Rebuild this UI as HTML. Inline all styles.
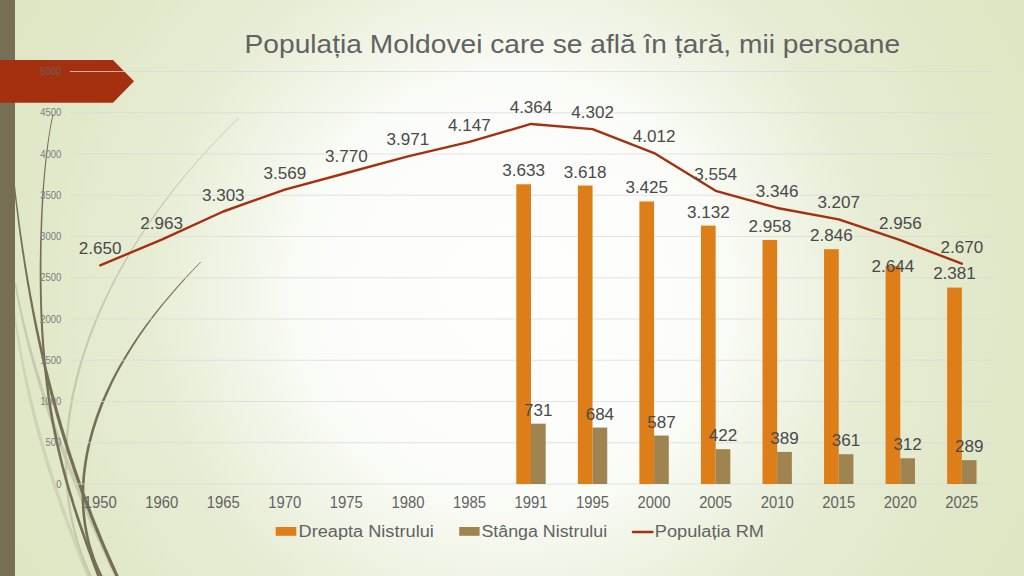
<!DOCTYPE html>
<html><head><meta charset="utf-8"><title>Populatia Moldovei</title>
<style>
html,body{margin:0;padding:0;width:1024px;height:576px;overflow:hidden;background:#e3eacf;}
svg{display:block;position:absolute;left:0;top:0;}
text{font-family:"Liberation Sans",sans-serif;}
</style></head><body>
<svg width="1024" height="576" viewBox="0 0 1024 576">
<defs>
<radialGradient id="bg" gradientUnits="userSpaceOnUse" cx="512" cy="292" r="600">
<stop offset="0" stop-color="#fefefd"/>
<stop offset="0.30" stop-color="#fcfdfa"/>
<stop offset="0.37" stop-color="#f9fbf5"/>
<stop offset="0.44" stop-color="#f3f6ea"/>
<stop offset="0.52" stop-color="#edf2e0"/>
<stop offset="0.60" stop-color="#e7edd5"/>
<stop offset="0.72" stop-color="#e3eacd"/>
<stop offset="0.82" stop-color="#e1e8c9"/>
<stop offset="1" stop-color="#dce6c0"/>
</radialGradient>
</defs>
<rect x="0" y="0" width="1024" height="576" fill="url(#bg)"/>

<path d="M13.3,312.1 L13.8,315.5 L14.2,318.8 L14.7,322.2 L15.2,325.5 L15.6,328.9 L16.1,332.3 L16.7,335.6 L17.2,339.0 L17.7,342.3 L18.3,345.7 L18.8,349.0 L19.4,352.4 L20.0,355.8 L20.6,359.1 L21.2,362.5 L21.9,365.8 L22.5,369.2 L23.2,372.6 L23.8,375.9 L24.5,379.3 L25.2,382.6 L25.9,386.0 L26.6,389.4 L27.3,392.7 L28.1,396.1 L28.8,399.5 L29.6,402.8 L30.4,406.2 L31.2,409.5 L32.0,412.9 L32.8,416.3 L33.6,419.6 L34.5,423.0 L35.4,426.3 L36.3,429.7 L37.2,433.0 L38.1,436.4 L39.0,439.8 L40.0,443.1 L40.9,446.5 L41.9,449.8 L42.9,453.2 L43.9,456.5 L44.9,459.9 L45.9,463.2 L46.9,466.6 L47.9,470.0 L49.0,473.3 L50.1,476.7 L51.1,480.0 L52.2,483.4 L53.3,486.7 L54.4,490.1 L55.5,493.4 L56.7,496.8 L57.8,500.1 L58.9,503.5 L60.1,506.9 L61.3,510.2 L62.5,513.6 L63.7,516.9 L64.9,520.3 L66.1,523.6 L67.3,527.0 L68.6,530.3 L69.8,533.7 L71.1,537.1 L72.4,540.4 L73.7,543.8 L75.0,547.1 L76.3,550.5 L77.6,553.8 L78.9,557.2 L80.3,560.5 L81.6,563.9 L83.0,567.2 L84.3,570.6 L85.7,574.0 L87.1,577.3 L88.5,580.7 L91.7,579.3 L90.3,576.0 L88.9,572.6 L87.5,569.3 L86.1,566.0 L84.8,562.6 L83.4,559.3 L82.1,555.9 L80.7,552.6 L79.4,549.2 L78.1,545.9 L76.8,542.5 L75.5,539.2 L74.3,535.8 L73.0,532.5 L71.8,529.2 L70.5,525.8 L69.3,522.5 L68.1,519.1 L66.9,515.8 L65.7,512.4 L64.5,509.1 L63.3,505.7 L62.2,502.4 L61.0,499.1 L59.9,495.7 L58.8,492.4 L57.6,489.0 L56.5,485.7 L55.4,482.3 L54.4,479.0 L53.3,475.6 L52.2,472.3 L51.2,468.9 L50.2,465.6 L49.1,462.3 L48.1,458.9 L47.1,455.6 L46.1,452.2 L45.2,448.9 L44.2,445.5 L43.2,442.2 L42.3,438.8 L41.4,435.5 L40.5,432.2 L39.6,428.8 L38.7,425.5 L37.8,422.1 L36.9,418.8 L36.0,415.4 L35.2,412.1 L34.3,408.8 L33.5,405.4 L32.6,402.1 L31.8,398.7 L31.0,395.4 L30.2,392.1 L29.4,388.7 L28.7,385.4 L27.9,382.1 L27.2,378.7 L26.4,375.4 L25.7,372.0 L25.0,368.7 L24.3,365.4 L23.6,362.0 L23.0,358.7 L22.3,355.3 L21.7,352.0 L21.0,348.7 L20.4,345.3 L19.8,342.0 L19.2,338.6 L18.6,335.3 L18.1,331.9 L17.5,328.6 L17.0,325.3 L16.4,321.9 L15.9,318.6 L15.4,315.2 L14.9,311.9Z" fill="#cfd4b8"/>
<path d="M14.5,283.1 L15.1,286.9 L15.8,290.6 L16.4,294.3 L17.1,298.0 L17.8,301.7 L18.6,305.5 L19.3,309.2 L20.1,312.9 L20.9,316.6 L21.7,320.4 L22.5,324.1 L23.4,327.8 L24.3,331.5 L25.2,335.3 L26.1,339.0 L27.0,342.7 L28.0,346.4 L28.9,350.2 L29.9,353.9 L30.9,357.6 L31.9,361.3 L33.0,365.1 L34.0,368.8 L35.1,372.5 L36.2,376.2 L37.3,380.0 L38.4,383.7 L39.5,387.4 L40.7,391.1 L41.8,394.9 L43.0,398.6 L44.2,402.3 L45.4,406.1 L46.6,409.8 L47.8,413.5 L49.1,417.2 L50.4,421.0 L51.7,424.7 L53.0,428.4 L54.3,432.1 L55.6,435.8 L56.9,439.5 L58.3,443.3 L59.7,447.0 L61.0,450.7 L62.4,454.4 L63.8,458.1 L65.3,461.8 L66.7,465.6 L68.1,469.3 L69.6,473.0 L71.0,476.7 L72.5,480.4 L74.0,484.1 L75.5,487.9 L77.0,491.6 L78.5,495.3 L80.0,499.0 L81.6,502.7 L83.1,506.4 L84.7,510.2 L86.2,513.9 L87.8,517.6 L89.4,521.3 L91.0,525.0 L92.7,528.7 L94.3,532.5 L95.9,536.2 L97.6,539.9 L99.3,543.6 L100.9,547.3 L102.6,551.0 L104.4,554.8 L106.1,558.5 L107.8,562.2 L109.6,565.9 L111.3,569.6 L113.1,573.4 L114.9,577.1 L116.7,580.8 L119.9,579.2 L118.1,575.5 L116.3,571.8 L114.6,568.1 L112.8,564.4 L111.1,560.7 L109.3,557.0 L107.6,553.3 L105.9,549.6 L104.2,545.8 L102.5,542.1 L100.9,538.4 L99.2,534.7 L97.6,531.0 L96.0,527.3 L94.3,523.6 L92.7,519.9 L91.1,516.2 L89.6,512.5 L88.0,508.8 L86.4,505.1 L84.9,501.3 L83.3,497.6 L81.8,493.9 L80.3,490.2 L78.8,486.5 L77.3,482.8 L75.8,479.1 L74.4,475.4 L72.9,471.7 L71.5,468.0 L70.0,464.3 L68.6,460.6 L67.2,456.9 L65.8,453.1 L64.4,449.4 L63.0,445.7 L61.7,442.0 L60.3,438.3 L59.0,434.6 L57.7,430.9 L56.4,427.2 L55.1,423.5 L53.8,419.8 L52.5,416.1 L51.2,412.4 L49.9,408.7 L48.7,405.0 L47.4,401.3 L46.2,397.6 L44.9,393.9 L43.7,390.2 L42.5,386.5 L41.4,382.8 L40.2,379.1 L39.0,375.4 L37.9,371.7 L36.8,368.0 L35.7,364.3 L34.6,360.6 L33.5,356.9 L32.5,353.2 L31.4,349.5 L30.4,345.8 L29.4,342.1 L28.4,338.4 L27.5,334.7 L26.5,331.0 L25.6,327.3 L24.7,323.6 L23.8,319.9 L22.9,316.2 L22.1,312.5 L21.3,308.8 L20.4,305.1 L19.7,301.4 L18.9,297.7 L18.2,294.0 L17.5,290.3 L16.8,286.6 L16.1,282.9Z" fill="#c6caae"/>
<path d="M238.5,117.8 L232.5,123.6 L226.8,129.3 L221.1,135.1 L215.5,140.9 L210.1,146.6 L204.8,152.4 L199.6,158.2 L194.5,163.9 L189.5,169.7 L184.6,175.5 L179.8,181.2 L175.2,187.0 L170.6,192.8 L166.2,198.5 L161.8,204.3 L157.6,210.1 L153.4,215.8 L149.4,221.6 L145.5,227.4 L141.6,233.2 L137.9,238.9 L134.2,244.7 L130.7,250.5 L127.2,256.2 L123.8,262.0 L120.6,267.8 L117.4,273.6 L114.3,279.3 L111.3,285.1 L108.4,290.9 L105.6,296.7 L102.9,302.4 L100.3,308.2 L97.8,314.0 L95.3,319.8 L93.0,325.6 L90.7,331.3 L88.5,337.1 L86.4,342.9 L84.5,348.7 L82.6,354.5 L80.8,360.3 L79.0,366.0 L77.4,371.8 L75.9,377.6 L74.4,383.4 L73.1,389.2 L71.8,395.0 L70.7,400.8 L69.7,406.6 L68.7,412.3 L67.9,418.1 L67.1,423.9 L66.5,429.7 L65.9,435.5 L65.5,441.3 L65.2,447.1 L64.9,452.9 L64.8,458.7 L64.8,464.5 L64.9,470.3 L65.1,476.1 L65.5,481.9 L65.9,487.7 L66.5,493.5 L67.2,499.3 L68.0,505.1 L68.9,510.9 L70.0,516.7 L71.2,522.5 L72.6,528.3 L74.0,534.1 L75.7,539.9 L77.5,545.7 L79.4,551.5 L81.5,557.3 L83.7,563.1 L86.1,568.9 L88.6,574.7 L91.4,580.5 L93.4,579.5 L90.7,573.7 L88.2,568.0 L85.8,562.2 L83.6,556.5 L81.5,550.7 L79.6,545.0 L77.9,539.3 L76.3,533.5 L74.8,527.8 L73.5,522.0 L72.3,516.3 L71.2,510.5 L70.3,504.8 L69.4,499.0 L68.8,493.3 L68.2,487.5 L67.7,481.7 L67.4,476.0 L67.2,470.2 L67.1,464.5 L67.1,458.7 L67.2,453.0 L67.5,447.2 L67.8,441.5 L68.2,435.7 L68.8,430.0 L69.4,424.2 L70.2,418.5 L71.0,412.7 L71.9,406.9 L73.0,401.2 L74.1,395.4 L75.3,389.7 L76.6,383.9 L78.0,378.1 L79.5,372.4 L81.1,366.6 L82.7,360.8 L84.5,355.1 L86.4,349.3 L88.3,343.5 L90.3,337.8 L92.5,332.0 L94.7,326.2 L97.0,320.5 L99.4,314.7 L101.9,308.9 L104.5,303.2 L107.1,297.4 L109.9,291.6 L112.7,285.8 L115.7,280.1 L118.7,274.3 L121.9,268.5 L125.1,262.7 L128.4,257.0 L131.8,251.2 L135.3,245.4 L139.0,239.6 L142.7,233.8 L146.5,228.1 L150.4,222.3 L154.4,216.5 L158.5,210.7 L162.7,204.9 L167.0,199.2 L171.4,193.4 L175.9,187.6 L180.6,181.8 L185.3,176.0 L190.1,170.2 L195.1,164.5 L200.1,158.7 L205.3,152.9 L210.6,147.1 L216.0,141.3 L221.5,135.5 L227.2,129.8 L232.9,124.0 L238.8,118.2Z" fill="#c5c9ae"/>
<path d="M52.6,113.9 L51.4,119.7 L50.3,125.6 L49.3,131.4 L48.4,137.2 L47.5,143.1 L46.7,148.9 L46.0,154.7 L45.3,160.5 L44.7,166.4 L44.1,172.2 L43.6,178.0 L43.1,183.9 L42.6,189.7 L42.2,195.5 L41.8,201.3 L41.5,207.2 L41.2,213.0 L40.9,218.8 L40.7,224.6 L40.5,230.5 L40.3,236.3 L40.1,242.1 L40.0,248.0 L39.9,253.8 L39.8,259.6 L39.7,265.4 L39.7,271.3 L39.7,277.1 L39.7,282.9 L39.8,288.8 L39.9,294.6 L40.0,300.4 L40.2,306.3 L40.3,312.1 L40.6,317.9 L40.8,323.8 L41.1,329.6 L41.4,335.4 L41.8,341.2 L42.2,347.1 L42.6,352.9 L43.1,358.8 L43.7,364.6 L44.2,370.4 L44.9,376.3 L45.5,382.1 L46.3,387.9 L47.0,393.8 L47.8,399.6 L48.7,405.4 L49.6,411.3 L50.6,417.1 L51.7,423.0 L52.8,428.8 L53.9,434.6 L55.2,440.5 L56.4,446.3 L57.8,452.1 L59.2,458.0 L60.6,463.8 L62.1,469.7 L63.6,475.5 L65.2,481.3 L66.9,487.2 L68.6,493.0 L70.4,498.8 L72.2,504.7 L74.0,510.5 L75.9,516.3 L77.8,522.2 L79.8,528.0 L81.8,533.8 L83.9,539.7 L85.9,545.5 L88.0,551.3 L90.1,557.1 L92.2,563.0 L94.4,568.8 L96.5,574.6 L98.6,580.4 L101.1,579.6 L98.9,573.7 L96.8,567.9 L94.7,562.1 L92.6,556.3 L90.5,550.4 L88.4,544.6 L86.3,538.8 L84.3,533.0 L82.3,527.2 L80.3,521.3 L78.4,515.5 L76.5,509.7 L74.6,503.9 L72.9,498.1 L71.1,492.3 L69.4,486.4 L67.7,480.6 L66.1,474.8 L64.6,469.0 L63.1,463.2 L61.7,457.4 L60.3,451.6 L59.0,445.7 L57.7,439.9 L56.5,434.1 L55.3,428.3 L54.2,422.5 L53.2,416.7 L52.2,410.9 L51.2,405.1 L50.3,399.2 L49.5,393.4 L48.7,387.6 L47.9,381.8 L47.2,376.0 L46.6,370.2 L45.9,364.4 L45.4,358.5 L44.9,352.7 L44.4,346.9 L44.0,341.1 L43.6,335.3 L43.2,329.5 L42.9,323.6 L42.6,317.8 L42.3,312.0 L42.1,306.2 L41.9,300.4 L41.8,294.6 L41.7,288.7 L41.6,282.9 L41.5,277.1 L41.5,271.3 L41.5,265.5 L41.5,259.6 L41.5,253.8 L41.6,248.0 L41.7,242.2 L41.8,236.3 L42.0,230.5 L42.2,224.7 L42.4,218.9 L42.6,213.1 L42.9,207.2 L43.2,201.4 L43.5,195.6 L43.9,189.8 L44.3,183.9 L44.8,178.1 L45.3,172.3 L45.8,166.5 L46.4,160.7 L47.0,154.8 L47.8,149.0 L48.5,143.2 L49.3,137.4 L50.2,131.6 L51.2,125.7 L52.3,119.9 L53.4,114.1Z" fill="#766f54"/>
<path d="M200.5,261.8 L196.6,265.8 L192.8,269.7 L189.0,273.7 L185.3,277.6 L181.7,281.6 L178.1,285.5 L174.6,289.5 L171.1,293.4 L167.7,297.4 L164.3,301.4 L161.1,305.3 L157.9,309.3 L154.7,313.2 L151.6,317.2 L148.6,321.2 L145.6,325.1 L142.8,329.1 L139.9,333.1 L137.2,337.0 L134.5,341.0 L131.9,345.0 L129.3,348.9 L126.8,352.9 L124.4,356.9 L122.0,360.9 L119.7,364.8 L117.5,368.8 L115.3,372.8 L113.2,376.8 L111.1,380.7 L109.2,384.7 L107.3,388.7 L105.4,392.7 L103.7,396.7 L101.9,400.6 L100.3,404.6 L98.7,408.6 L97.3,412.6 L95.8,416.6 L94.5,420.6 L93.2,424.6 L91.9,428.6 L90.8,432.6 L89.7,436.6 L88.7,440.6 L87.7,444.6 L86.8,448.6 L86.0,452.5 L85.2,456.5 L84.6,460.5 L83.9,464.5 L83.4,468.5 L82.9,472.5 L82.5,476.5 L82.2,480.5 L81.9,484.5 L81.8,488.5 L81.7,492.5 L81.6,496.5 L81.7,500.5 L81.8,504.5 L82.0,508.5 L82.3,512.5 L82.7,516.5 L83.2,520.5 L83.7,524.5 L84.4,528.5 L85.1,532.6 L86.0,536.6 L86.9,540.6 L87.9,544.6 L89.0,548.6 L90.3,552.6 L91.6,556.6 L93.1,560.6 L94.6,564.6 L96.3,568.6 L98.1,572.6 L100.0,576.6 L102.1,580.6 L104.4,579.4 L102.3,575.4 L100.5,571.5 L98.7,567.6 L97.0,563.6 L95.5,559.7 L94.1,555.7 L92.8,551.8 L91.5,547.8 L90.4,543.9 L89.4,539.9 L88.5,536.0 L87.7,532.0 L87.0,528.1 L86.3,524.2 L85.8,520.2 L85.3,516.3 L84.9,512.3 L84.6,508.4 L84.4,504.4 L84.3,500.5 L84.2,496.5 L84.3,492.6 L84.4,488.6 L84.5,484.7 L84.8,480.7 L85.1,476.8 L85.5,472.8 L86.0,468.9 L86.5,464.9 L87.1,461.0 L87.8,457.0 L88.5,453.1 L89.4,449.1 L90.2,445.1 L91.2,441.2 L92.2,437.2 L93.3,433.3 L94.4,429.3 L95.7,425.4 L96.9,421.4 L98.3,417.5 L99.7,413.5 L101.2,409.5 L102.7,405.6 L104.3,401.6 L106.0,397.6 L107.7,393.7 L109.5,389.7 L111.3,385.7 L113.2,381.8 L115.2,377.8 L117.2,373.8 L119.4,369.8 L121.5,365.9 L123.8,361.9 L126.1,357.9 L128.5,353.9 L130.9,350.0 L133.4,346.0 L136.0,342.0 L138.6,338.0 L141.3,334.0 L144.1,330.1 L146.9,326.1 L149.8,322.1 L152.8,318.1 L155.8,314.1 L158.9,310.1 L162.1,306.1 L165.3,302.1 L168.6,298.2 L171.9,294.2 L175.4,290.2 L178.8,286.2 L182.4,282.2 L185.9,278.2 L189.6,274.2 L193.3,270.2 L197.1,266.2 L200.9,262.2Z" fill="#766f54"/>
<path d="M13.8,186.1 L14.3,191.0 L14.9,195.9 L15.4,200.9 L16.0,205.8 L16.6,210.7 L17.2,215.6 L17.8,220.6 L18.4,225.5 L19.1,230.4 L19.7,235.4 L20.4,240.3 L21.1,245.2 L21.8,250.2 L22.5,255.1 L23.3,260.0 L24.0,265.0 L24.8,269.9 L25.6,274.8 L26.4,279.7 L27.2,284.7 L28.1,289.6 L28.9,294.5 L29.8,299.5 L30.7,304.4 L31.6,309.3 L32.5,314.3 L33.5,319.2 L34.4,324.1 L35.4,329.1 L36.4,334.0 L37.5,338.9 L38.5,343.9 L39.6,348.8 L40.7,353.7 L41.8,358.7 L42.9,363.6 L44.1,368.5 L45.2,373.5 L46.4,378.4 L47.6,383.4 L48.9,388.3 L50.1,393.2 L51.4,398.2 L52.7,403.1 L54.1,408.0 L55.4,413.0 L56.8,417.9 L58.2,422.8 L59.6,427.8 L61.1,432.7 L62.6,437.6 L64.1,442.6 L65.7,447.5 L67.2,452.4 L68.8,457.4 L70.4,462.3 L72.1,467.2 L73.7,472.2 L75.4,477.1 L77.2,482.0 L78.9,487.0 L80.7,491.9 L82.5,496.8 L84.3,501.8 L86.2,506.7 L88.1,511.6 L90.0,516.6 L91.9,521.5 L93.9,526.4 L95.9,531.4 L97.9,536.3 L100.0,541.2 L102.1,546.2 L104.2,551.1 L106.3,556.0 L108.5,561.0 L110.7,565.9 L113.0,570.8 L115.2,575.7 L117.5,580.7 L120.4,579.3 L118.1,574.4 L115.9,569.5 L113.6,564.6 L111.4,559.6 L109.3,554.7 L107.1,549.8 L105.0,544.9 L102.9,540.0 L100.9,535.1 L98.9,530.1 L96.9,525.2 L94.9,520.3 L93.0,515.4 L91.1,510.5 L89.2,505.6 L87.3,500.6 L85.5,495.7 L83.7,490.8 L81.9,485.9 L80.2,481.0 L78.5,476.1 L76.8,471.1 L75.1,466.2 L73.5,461.3 L71.9,456.4 L70.3,451.5 L68.7,446.5 L67.2,441.6 L65.7,436.7 L64.2,431.8 L62.7,426.9 L61.3,422.0 L59.8,417.0 L58.4,412.1 L57.0,407.2 L55.7,402.3 L54.3,397.4 L53.0,392.5 L51.7,387.6 L50.4,382.6 L49.2,377.7 L48.0,372.8 L46.7,367.9 L45.6,363.0 L44.4,358.1 L43.3,353.2 L42.1,348.2 L41.0,343.3 L39.9,338.4 L38.9,333.5 L37.8,328.6 L36.8,323.7 L35.8,318.7 L34.8,313.8 L33.8,308.9 L32.9,304.0 L32.0,299.1 L31.0,294.2 L30.2,289.2 L29.3,284.3 L28.4,279.4 L27.6,274.5 L26.7,269.6 L25.9,264.6 L25.1,259.7 L24.4,254.8 L23.6,249.9 L22.9,245.0 L22.1,240.1 L21.4,235.1 L20.7,230.2 L20.0,225.3 L19.4,220.4 L18.7,215.5 L18.1,210.5 L17.4,205.6 L16.8,200.7 L16.2,195.8 L15.6,190.8 L15.1,185.9Z" fill="#766f54"/>
<rect x="0" y="0" width="15" height="576" fill="#766f54"/>
<polygon points="0,60 113,60 134,81.3 113,102.7 0,102.7" fill="#a53010"/>
<line x1="70.0" y1="484.00" x2="992.6" y2="484.00" stroke="#dadada" stroke-width="0.75"/>
<line x1="70.0" y1="442.75" x2="992.6" y2="442.75" stroke="#dadada" stroke-width="0.75"/>
<line x1="70.0" y1="401.50" x2="992.6" y2="401.50" stroke="#dadada" stroke-width="0.75"/>
<line x1="70.0" y1="360.25" x2="992.6" y2="360.25" stroke="#dadada" stroke-width="0.75"/>
<line x1="70.0" y1="319.00" x2="992.6" y2="319.00" stroke="#dadada" stroke-width="0.75"/>
<line x1="70.0" y1="277.75" x2="992.6" y2="277.75" stroke="#dadada" stroke-width="0.75"/>
<line x1="70.0" y1="236.50" x2="992.6" y2="236.50" stroke="#dadada" stroke-width="0.75"/>
<line x1="70.0" y1="195.25" x2="992.6" y2="195.25" stroke="#dadada" stroke-width="0.75"/>
<line x1="70.0" y1="154.00" x2="992.6" y2="154.00" stroke="#dadada" stroke-width="0.75"/>
<line x1="70.0" y1="112.75" x2="992.6" y2="112.75" stroke="#dadada" stroke-width="0.75"/>
<line x1="70.0" y1="71.50" x2="992.6" y2="71.50" stroke="#dadada" stroke-width="0.75"/>
<text x="61.4" y="487.70" font-size="10.3" text-anchor="end" fill="#7c7c7c" textLength="5.27" lengthAdjust="spacingAndGlyphs">0</text>
<text x="61.4" y="446.45" font-size="10.3" text-anchor="end" fill="#7c7c7c" textLength="15.81" lengthAdjust="spacingAndGlyphs">500</text>
<text x="61.4" y="405.20" font-size="10.3" text-anchor="end" fill="#7c7c7c" textLength="21.07" lengthAdjust="spacingAndGlyphs">1000</text>
<text x="61.4" y="363.95" font-size="10.3" text-anchor="end" fill="#7c7c7c" textLength="21.07" lengthAdjust="spacingAndGlyphs">1500</text>
<text x="61.4" y="322.70" font-size="10.3" text-anchor="end" fill="#7c7c7c" textLength="21.07" lengthAdjust="spacingAndGlyphs">2000</text>
<text x="61.4" y="281.45" font-size="10.3" text-anchor="end" fill="#7c7c7c" textLength="21.07" lengthAdjust="spacingAndGlyphs">2500</text>
<text x="61.4" y="240.20" font-size="10.3" text-anchor="end" fill="#7c7c7c" textLength="21.07" lengthAdjust="spacingAndGlyphs">3000</text>
<text x="61.4" y="198.95" font-size="10.3" text-anchor="end" fill="#7c7c7c" textLength="21.07" lengthAdjust="spacingAndGlyphs">3500</text>
<text x="61.4" y="157.70" font-size="10.3" text-anchor="end" fill="#7c7c7c" textLength="21.07" lengthAdjust="spacingAndGlyphs">4000</text>
<text x="61.4" y="116.45" font-size="10.3" text-anchor="end" fill="#7c7c7c" textLength="21.07" lengthAdjust="spacingAndGlyphs">4500</text>
<text x="61.4" y="75.20" font-size="10.3" text-anchor="end" fill="#6b5f5c" textLength="21.07" lengthAdjust="spacingAndGlyphs">5000</text>
<rect x="516.31" y="184.28" width="14.69" height="299.72" fill="#de7e18"/>
<rect x="531.00" y="423.69" width="14.69" height="60.31" fill="#9f8351"/>
<rect x="577.86" y="185.51" width="14.69" height="298.49" fill="#de7e18"/>
<rect x="592.55" y="427.57" width="14.69" height="56.43" fill="#9f8351"/>
<rect x="639.40" y="201.44" width="14.69" height="282.56" fill="#de7e18"/>
<rect x="654.09" y="435.57" width="14.69" height="48.43" fill="#9f8351"/>
<rect x="700.95" y="225.61" width="14.69" height="258.39" fill="#de7e18"/>
<rect x="715.64" y="449.19" width="14.69" height="34.81" fill="#9f8351"/>
<rect x="762.50" y="239.96" width="14.69" height="244.04" fill="#de7e18"/>
<rect x="777.19" y="451.91" width="14.69" height="32.09" fill="#9f8351"/>
<rect x="824.04" y="249.20" width="14.69" height="234.80" fill="#de7e18"/>
<rect x="838.73" y="454.22" width="14.69" height="29.78" fill="#9f8351"/>
<rect x="885.59" y="265.87" width="14.69" height="218.13" fill="#de7e18"/>
<rect x="900.28" y="458.26" width="14.69" height="25.74" fill="#9f8351"/>
<rect x="947.14" y="287.57" width="14.69" height="196.43" fill="#de7e18"/>
<rect x="961.83" y="460.16" width="14.69" height="23.84" fill="#9f8351"/>
<polyline points="100.17,265.38 161.72,239.55 223.27,211.50 284.81,189.56 346.36,172.97 407.91,156.39 469.45,141.87 531.00,123.97 592.55,129.08 654.09,153.01 715.64,190.79 777.19,207.95 838.73,219.42 900.28,240.13 961.83,263.73" fill="none" stroke="#a53010" stroke-width="2.4" stroke-linejoin="round" stroke-linecap="round"/>
<text x="523.66" y="176.28" font-size="17.07" text-anchor="middle" fill="#4a4a4a">3.633</text>
<text x="538.34" y="415.69" font-size="17.07" text-anchor="middle" fill="#4a4a4a">731</text>
<text x="585.20" y="177.51" font-size="17.07" text-anchor="middle" fill="#4a4a4a">3.618</text>
<text x="599.89" y="419.57" font-size="17.07" text-anchor="middle" fill="#4a4a4a">684</text>
<text x="646.75" y="193.44" font-size="17.07" text-anchor="middle" fill="#4a4a4a">3.425</text>
<text x="661.44" y="427.57" font-size="17.07" text-anchor="middle" fill="#4a4a4a">587</text>
<text x="708.30" y="217.61" font-size="17.07" text-anchor="middle" fill="#4a4a4a">3.132</text>
<text x="722.98" y="441.19" font-size="17.07" text-anchor="middle" fill="#4a4a4a">422</text>
<text x="769.84" y="231.96" font-size="17.07" text-anchor="middle" fill="#4a4a4a">2.958</text>
<text x="784.53" y="443.91" font-size="17.07" text-anchor="middle" fill="#4a4a4a">389</text>
<text x="831.39" y="241.20" font-size="17.07" text-anchor="middle" fill="#4a4a4a">2.846</text>
<text x="846.08" y="446.22" font-size="17.07" text-anchor="middle" fill="#4a4a4a">361</text>
<text x="892.94" y="272.47" font-size="17.07" text-anchor="middle" fill="#4a4a4a">2.644</text>
<text x="907.62" y="450.26" font-size="17.07" text-anchor="middle" fill="#4a4a4a">312</text>
<text x="954.48" y="278.77" font-size="17.07" text-anchor="middle" fill="#4a4a4a">2.381</text>
<text x="969.17" y="452.16" font-size="17.07" text-anchor="middle" fill="#4a4a4a">289</text>
<text x="100.17" y="254.38" font-size="17.07" text-anchor="middle" fill="#4a4a4a">2.650</text>
<text x="161.72" y="228.55" font-size="17.07" text-anchor="middle" fill="#4a4a4a">2.963</text>
<text x="223.27" y="200.50" font-size="17.07" text-anchor="middle" fill="#4a4a4a">3.303</text>
<text x="284.81" y="178.56" font-size="17.07" text-anchor="middle" fill="#4a4a4a">3.569</text>
<text x="346.36" y="161.97" font-size="17.07" text-anchor="middle" fill="#4a4a4a">3.770</text>
<text x="407.91" y="145.39" font-size="17.07" text-anchor="middle" fill="#4a4a4a">3.971</text>
<text x="469.45" y="130.87" font-size="17.07" text-anchor="middle" fill="#4a4a4a">4.147</text>
<text x="531.00" y="112.97" font-size="17.07" text-anchor="middle" fill="#4a4a4a">4.364</text>
<text x="592.55" y="118.08" font-size="17.07" text-anchor="middle" fill="#4a4a4a">4.302</text>
<text x="654.09" y="142.01" font-size="17.07" text-anchor="middle" fill="#4a4a4a">4.012</text>
<text x="715.64" y="179.79" font-size="17.07" text-anchor="middle" fill="#4a4a4a">3.554</text>
<text x="777.19" y="196.95" font-size="17.07" text-anchor="middle" fill="#4a4a4a">3.346</text>
<text x="838.73" y="208.42" font-size="17.07" text-anchor="middle" fill="#4a4a4a">3.207</text>
<text x="900.28" y="229.13" font-size="17.07" text-anchor="middle" fill="#4a4a4a">2.956</text>
<text x="961.83" y="252.73" font-size="17.07" text-anchor="middle" fill="#4a4a4a">2.670</text>
<text x="100.17" y="508.2" font-size="15.7" text-anchor="middle" fill="#636363" textLength="33.0" lengthAdjust="spacingAndGlyphs">1950</text>
<text x="161.72" y="508.2" font-size="15.7" text-anchor="middle" fill="#636363" textLength="33.0" lengthAdjust="spacingAndGlyphs">1960</text>
<text x="223.27" y="508.2" font-size="15.7" text-anchor="middle" fill="#636363" textLength="33.0" lengthAdjust="spacingAndGlyphs">1965</text>
<text x="284.81" y="508.2" font-size="15.7" text-anchor="middle" fill="#636363" textLength="33.0" lengthAdjust="spacingAndGlyphs">1970</text>
<text x="346.36" y="508.2" font-size="15.7" text-anchor="middle" fill="#636363" textLength="33.0" lengthAdjust="spacingAndGlyphs">1975</text>
<text x="407.91" y="508.2" font-size="15.7" text-anchor="middle" fill="#636363" textLength="33.0" lengthAdjust="spacingAndGlyphs">1980</text>
<text x="469.45" y="508.2" font-size="15.7" text-anchor="middle" fill="#636363" textLength="33.0" lengthAdjust="spacingAndGlyphs">1985</text>
<text x="531.00" y="508.2" font-size="15.7" text-anchor="middle" fill="#636363" textLength="33.0" lengthAdjust="spacingAndGlyphs">1991</text>
<text x="592.55" y="508.2" font-size="15.7" text-anchor="middle" fill="#636363" textLength="33.0" lengthAdjust="spacingAndGlyphs">1995</text>
<text x="654.09" y="508.2" font-size="15.7" text-anchor="middle" fill="#636363" textLength="33.0" lengthAdjust="spacingAndGlyphs">2000</text>
<text x="715.64" y="508.2" font-size="15.7" text-anchor="middle" fill="#636363" textLength="33.0" lengthAdjust="spacingAndGlyphs">2005</text>
<text x="777.19" y="508.2" font-size="15.7" text-anchor="middle" fill="#636363" textLength="33.0" lengthAdjust="spacingAndGlyphs">2010</text>
<text x="838.73" y="508.2" font-size="15.7" text-anchor="middle" fill="#636363" textLength="33.0" lengthAdjust="spacingAndGlyphs">2015</text>
<text x="900.28" y="508.2" font-size="15.7" text-anchor="middle" fill="#636363" textLength="33.0" lengthAdjust="spacingAndGlyphs">2020</text>
<text x="961.83" y="508.2" font-size="15.7" text-anchor="middle" fill="#636363" textLength="33.0" lengthAdjust="spacingAndGlyphs">2025</text>
<rect x="275.7" y="527" width="20.6" height="8.8" fill="#de7e18"/>
<text x="298.6" y="537" font-size="16" fill="#626262" textLength="135.2" lengthAdjust="spacingAndGlyphs">Dreapta Nistrului</text>
<rect x="459.2" y="527" width="20.4" height="8.8" fill="#9f8351"/>
<text x="481.4" y="537" font-size="16" fill="#626262" textLength="125.8" lengthAdjust="spacingAndGlyphs">Stânga Nistrului</text>
<line x1="632.9" y1="532" x2="652.4" y2="532" stroke="#a53010" stroke-width="2.4" stroke-linecap="round"/>
<text x="654.8" y="537" font-size="16" fill="#626262" textLength="109.2" lengthAdjust="spacingAndGlyphs">Populația RM</text>
<text x="244.6" y="52.5" font-size="25.1" fill="#626262" textLength="655.5" lengthAdjust="spacingAndGlyphs">Populația Moldovei care se află în țară, mii persoane</text>
</svg></body></html>
